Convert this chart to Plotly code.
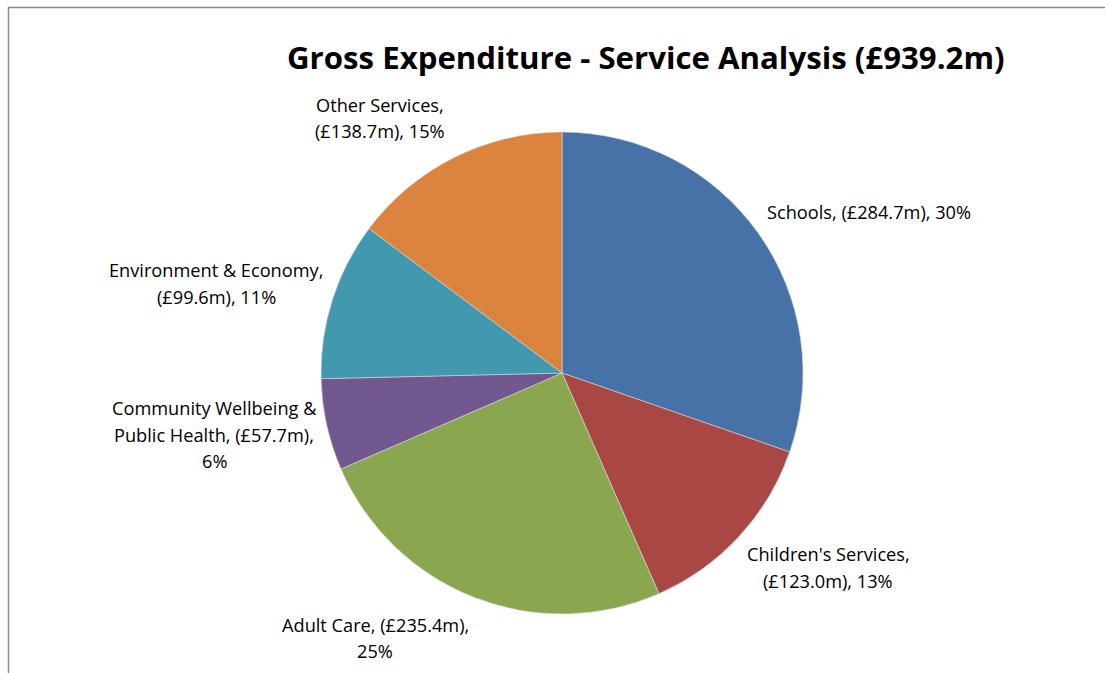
import textwrap
import plotly.graph_objects as go

# Gross expenditure by service (£m)
services = [
    "Schools",
    "Children's Services",
    "Adult Care",
    "Community Wellbeing & Public Health",
    "Environment & Economy",
    "Other Services",
]
spend_m = [284.7, 123.0, 235.4, 57.7, 99.6, 138.7]
colours = ["#4672A8", "#A94745", "#8AA64F", "#71588F", "#4298AF", "#DB843D"]
total_m = 939.2

W, H = 1105, 673

# Pie placement (pixels): centre and radius
cx, cy, r = 562, 373, 241

# Label layout: wrap width, anchor x, first-line centre y, alignment
label_layout = [
    (40, 765, 212, "left"),
    (22, 828, 554, "center"),
    (22, 375, 624.5, "center"),
    (24, 214, 408, "center"),
    (22, 216, 270, "center"),
    (16, 380, 105, "center"),
]
line_gap = 26.5

FONT = "Open Sans, Lato, sans-serif"

fig = go.Figure(
    go.Pie(
        labels=services,
        values=spend_m,
        sort=False,
        direction="clockwise",
        rotation=0,
        marker=dict(colors=colours, line=dict(color="#D9D9D9", width=0.6)),
        textinfo="none",
        hoverinfo="label+value+percent",
        showlegend=False,
        domain=dict(
            x=[(cx - r) / W, (cx + r) / W],
            y=[1 - (cy + r) / H, 1 - (cy - r) / H],
        ),
    )
)

annotations = []
total = sum(spend_m)
for name, val, (wrap_w, ax, ay, align) in zip(services, spend_m, label_layout):
    pct = round(val / total * 100)
    text = f"{name}, (£{val:.1f}m), {pct}%"
    for i, line in enumerate(textwrap.wrap(text, width=wrap_w)):
        annotations.append(
            dict(
                x=ax / W,
                y=1 - (ay + i * line_gap) / H,
                xref="paper",
                yref="paper",
                text=line,
                showarrow=False,
                xanchor="left" if align == "left" else "center",
                yanchor="middle",
                font=dict(family=FONT, size=18.2, color="#000000"),
            )
        )

# Chart title
annotations.append(
    dict(
        x=645.5 / W,
        y=1 - 56.5 / H,
        xref="paper",
        yref="paper",
        text=f"<b>Gross Expenditure - Service Analysis (£{total_m:.1f}m)</b>",
        showarrow=False,
        xanchor="center",
        yanchor="middle",
        font=dict(family=FONT, size=31.2, color="#000000"),
    )
)

# Chart-area frame (top and left edges visible)
shapes = [
    dict(type="line", xref="paper", yref="paper",
         x0=8 / W, x1=1.0, y0=1 - 7.5 / H, y1=1 - 7.5 / H,
         line=dict(color="#8C8C8C", width=1.5)),
    dict(type="line", xref="paper", yref="paper",
         x0=8.5 / W, x1=8.5 / W, y0=0, y1=1 - 7 / H,
         line=dict(color="#8C8C8C", width=1.5)),
]

fig.update_layout(
    width=W,
    height=H,
    margin=dict(l=0, r=0, t=0, b=0),
    paper_bgcolor="#FFFFFF",
    plot_bgcolor="#FFFFFF",
    annotations=annotations,
    shapes=shapes,
)

fig.write_html("out.html")
